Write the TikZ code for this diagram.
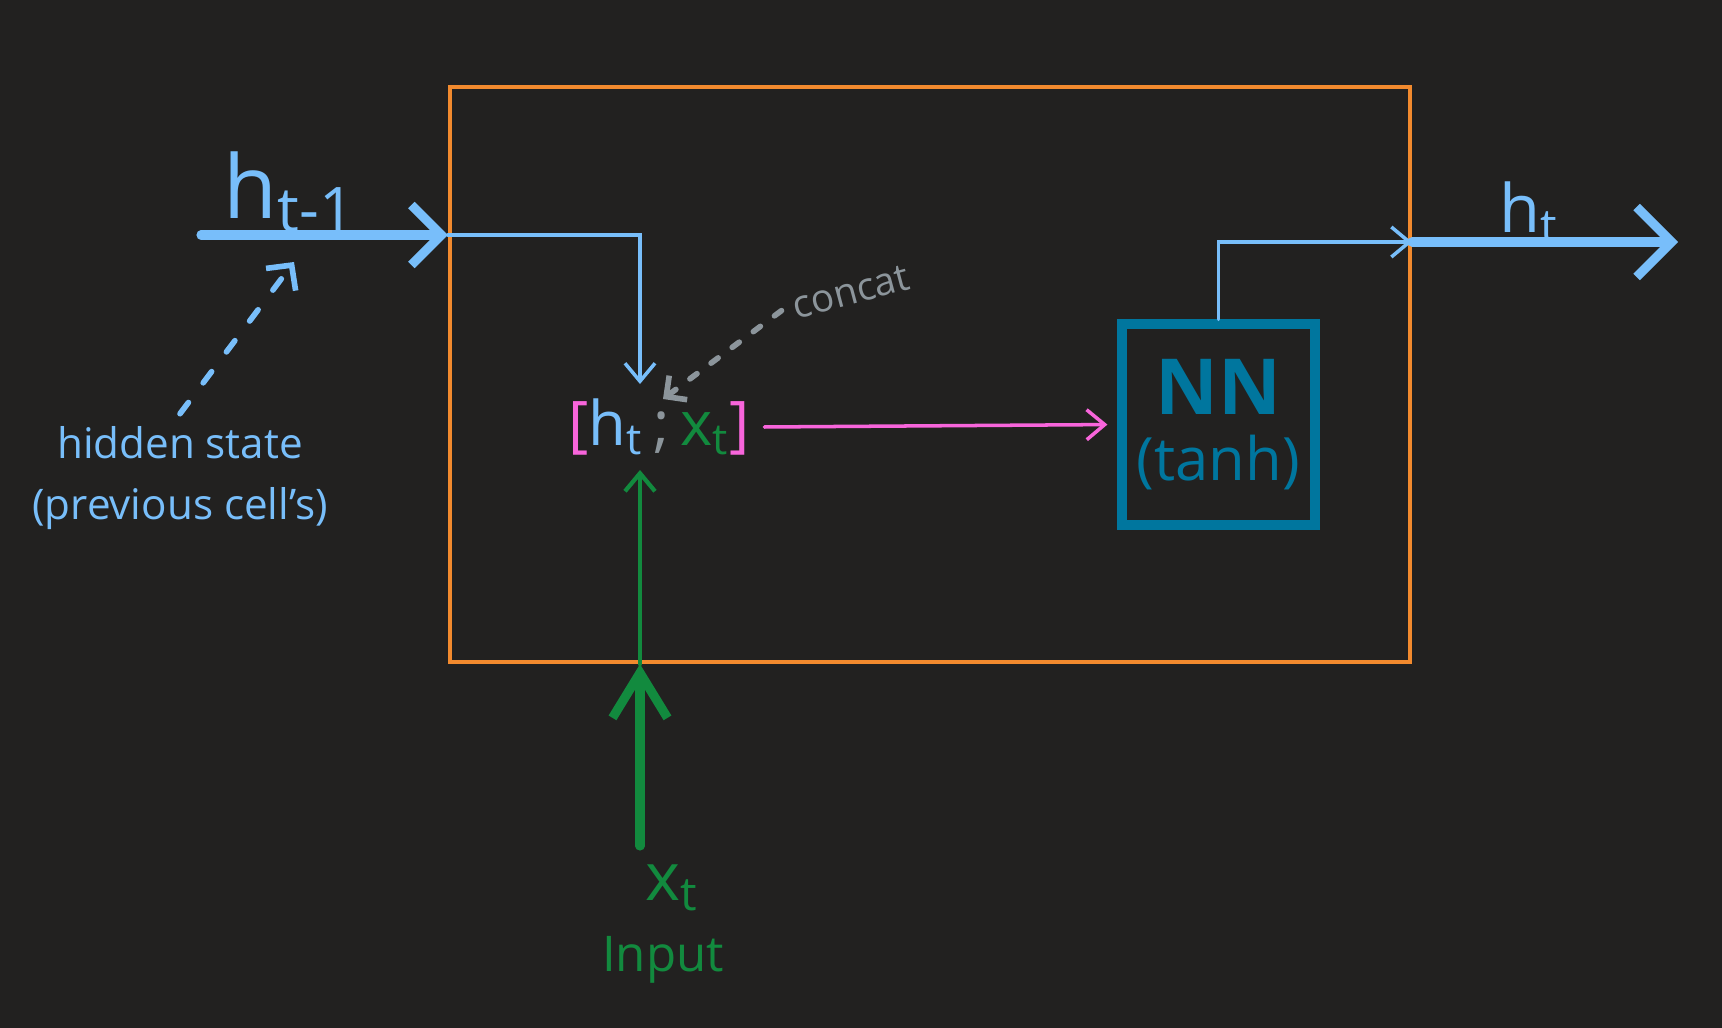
\documentclass[tikz,border=0pt]{standalone}
\usepackage{xcolor}
\usepackage{fontspec}
\setmainfont{Open Sans}
\usepackage{tikz}
\usetikzlibrary{shapes,arrows,positioning,calc,arrows.meta}
\definecolor{bgdark}{HTML}{222120}
\definecolor{cellorange}{HTML}{F28A2E}
\definecolor{thinblue}{HTML}{78BEFA}
\definecolor{inputgreen}{HTML}{128A3E}
\definecolor{catpink}{HTML}{F865DB}
\definecolor{hintgray}{HTML}{8C959B}
\definecolor{nnteal}{HTML}{00769E}

\begin{document}
\begin{tikzpicture}[
    cellbox/.style={rectangle, draw=cellorange, line width=1.2pt, minimum width=9.6cm, minimum height=5.75cm},
    nnbox/.style={rectangle, draw=nnteal, line width=2.6pt, minimum width=1.93cm, minimum height=2.01cm, align=center, text=nnteal, inner sep=0pt},
    catbox/.style={inner sep=4pt, font=\fontsize{17.5}{21}\selectfont},
    note/.style={font=\fontsize{12}{17.5}\selectfont, align=center},
    bigarrow/.style={line width=2.6pt, line cap=round, -{Straight Barb[length=3mm, width=6mm]}},
    thinarrow/.style={line width=1pt, line cap=round, -{Straight Barb[length=1.8mm, width=3mm]}},
    hint/.style={line width=1.6pt, line cap=round, dash pattern=on 4pt off 7pt, -{Straight Barb[length=1.8mm, width=3.7mm]}},
  ]
  \useasboundingbox (0, 0) rectangle (17.22, -10.28);
  \fill [bgdark] (0, 0) rectangle (17.22, -10.28);

  \node [cellbox] (cell) at (9.30, -3.745) {};
  \coordinate (hprev) at (2.01, -2.35);
  \coordinate (hnext) at (16.78, -2.42);
  \coordinate (xin) at (6.40, -8.46);
  \coordinate (hidtip) at (2.94, -2.62);

  \node [catbox] (cat) at (6.59, -4.27) {{\color{catpink}[}{\color{thinblue}h\textsubscript{t}}{\color{hintgray}\,;\,}{\color{inputgreen}x\textsubscript{t}}{\color{catpink}]}};
  \node [nnbox] (nn) at (12.185, -4.245) {{\fontsize{22}{22}\selectfont\bfseries NN}\\[5pt]{\fontsize{17}{18}\selectfont (tanh)}};

  \node [note, text=thinblue, font=\fontsize{25}{30}\selectfont] (hprevlbl) at (2.90, -1.92) {h\textsubscript{t-1}};
  \node [note, text=thinblue, font=\fontsize{19}{22}\selectfont] (hnextlbl) at (15.29, -2.12) {h\textsubscript{t}};
  \node [note, text=thinblue] (hid) at (1.80, -4.78) {hidden state\\(previous cell's)};
  \node [note, text=hintgray, font=\fontsize{11}{13}\selectfont, rotate=15] (concat) at (8.51, -2.92) {concat};
  \node [note, text=inputgreen, font=\fontsize{19}{21}\selectfont] (xlbl) at (6.72, -8.88) {x\textsubscript{t}};
  \node [note, text=inputgreen, font=\fontsize{14}{18}\selectfont] (inlbl) at (6.63, -9.60) {Input};

  \draw [bigarrow, thinblue] (hprev) -- (hprev -| cell.west);
  \draw [thinarrow, thinblue] (hprev -| cell.west) -| (xin |- cat.north);
  \draw [hint, thinblue] (hid.north) -- (hidtip);
  \draw [hint, hintgray, dash pattern=on 2.5pt off 5pt, -{Straight Barb[length=1.5mm, width=3mm]}] (concat.west) -- ([xshift=0.4mm, yshift=-1.5mm]cat.north);
  \draw [thinarrow, catpink, shorten >=1mm] (cat.east) -- (nn.west);
  \draw [thinarrow, thinblue] (nn.north) |- (hnext -| cell.east);
  \draw [bigarrow, thinblue, -{Straight Barb[length=3.5mm, width=7mm]}] (hnext -| cell.east) -- (hnext);
  \draw [bigarrow, inputgreen, -{Straight Barb[length=4.5mm, width=5.5mm]}] (xin) -- (xin |- cell.south);
  \draw [thinarrow, inputgreen, line width=1.2pt] (xin |- cell.south) -- (xin |- cat.south);
\end{tikzpicture}
\end{document}
